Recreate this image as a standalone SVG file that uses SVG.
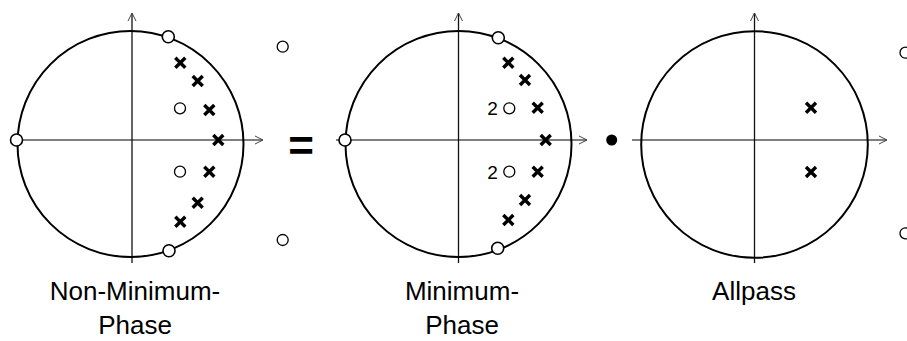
<svg xmlns="http://www.w3.org/2000/svg" width="907" height="341" viewBox="0 0 907 341">
<defs>
<marker id="ah" viewBox="0 0 10 10" refX="9" refY="5" markerWidth="10" markerHeight="10" markerUnits="userSpaceOnUse" orient="auto">
<path d="M1,1 L9,5 L1,9" fill="none" stroke="#444" stroke-width="1"/>
</marker>
<g id="pole"><path d="M-5,-5 L5,5 M5,-5 L-5,5" stroke="#000" stroke-width="3.4"/></g>
</defs>
<style>
.uc{fill:none;stroke:#000;stroke-width:2}
.ax{stroke:#555;stroke-width:1.3;fill:none}
.vx{stroke:#111;stroke-width:1.3;fill:none}
.z{fill:#fff;stroke:#000;stroke-width:1.3}
.zb{fill:#fff;stroke:#000;stroke-width:1.6}
.lbl{font-family:"Liberation Sans",Arial,sans-serif;font-size:26px;fill:#000;text-anchor:middle}
.num{font-family:"Liberation Sans",Arial,sans-serif;font-size:19px;fill:#000;text-anchor:middle}
.op{font-family:"Liberation Sans",Arial,sans-serif;font-size:44px;font-weight:bold;fill:#000;text-anchor:middle}
</style>
<g id="connectors">
<line class="ax" x1="10" y1="140" x2="263" y2="140" marker-end="url(#ah)"/>
<line class="vx" x1="132" y1="263" x2="132" y2="13" marker-end="url(#ah)"/>
<line class="ax" x1="336" y1="140" x2="587" y2="140" marker-end="url(#ah)"/>
<line class="vx" x1="458.5" y1="263" x2="458.5" y2="13" marker-end="url(#ah)"/>
<line class="ax" x1="632" y1="140" x2="887" y2="140" marker-end="url(#ah)"/>
<line class="vx" x1="754.5" y1="263" x2="754.5" y2="13" marker-end="url(#ah)"/>
</g>
<g id="nonmin">
<circle class="uc" cx="130.5" cy="144" r="113"/>
<circle class="zb" cx="168.3" cy="36.7" r="6"/>
<circle class="zb" cx="169" cy="250.7" r="6"/>
<circle class="zb" cx="16.5" cy="140" r="6"/>
<circle class="z" cx="180" cy="108.3" r="5.5"/>
<circle class="z" cx="180" cy="171.7" r="5.5"/>
<circle class="z" cx="282.7" cy="46.7" r="5.5"/>
<circle class="z" cx="282.7" cy="240" r="5.5"/>
<use href="#pole" x="180.3" y="62.7"/>
<use href="#pole" x="197.7" y="81"/>
<use href="#pole" x="209.3" y="110"/>
<use href="#pole" x="218.3" y="140"/>
<use href="#pole" x="209.3" y="171.7"/>
<use href="#pole" x="197.7" y="202.7"/>
<use href="#pole" x="180.3" y="221.7"/>
<text class="lbl" x="135" y="300">Non-Minimum-</text>
<text class="lbl" x="135" y="334">Phase</text>
</g>
<g id="equals">
<text class="op" x="301" y="161">=</text>
</g>
<g id="minphase">
<circle class="uc" cx="458.5" cy="144" r="113"/>
<circle class="zb" cx="498.3" cy="37.7" r="6"/>
<circle class="zb" cx="497.7" cy="248.3" r="6"/>
<circle class="zb" cx="345" cy="140" r="6"/>
<circle class="z" cx="509.3" cy="108.3" r="5.5"/>
<circle class="z" cx="509.3" cy="171.7" r="5.5"/>
<text class="num" x="492.5" y="115">2</text>
<text class="num" x="492.5" y="178.5">2</text>
<use href="#pole" x="508.3" y="62.7"/>
<use href="#pole" x="525" y="80"/>
<use href="#pole" x="537.7" y="107.7"/>
<use href="#pole" x="545.7" y="140"/>
<use href="#pole" x="537.7" y="171.7"/>
<use href="#pole" x="525" y="200"/>
<use href="#pole" x="508.3" y="220"/>
<text class="lbl" x="462" y="300">Minimum-</text>
<text class="lbl" x="462" y="334">Phase</text>
</g>
<g id="dot">
<circle cx="611.7" cy="140" r="5.5" fill="#000"/>
</g>
<g id="allpass">
<circle class="uc" cx="754.5" cy="144.5" r="113.3"/>
<use href="#pole" x="811" y="107.7"/>
<use href="#pole" x="811" y="172"/>
<circle class="z" cx="905.5" cy="52.7" r="5.5"/>
<circle class="z" cx="905.5" cy="233.3" r="5.5"/>
<text class="lbl" x="754" y="300">Allpass</text>
</g>
</svg>
